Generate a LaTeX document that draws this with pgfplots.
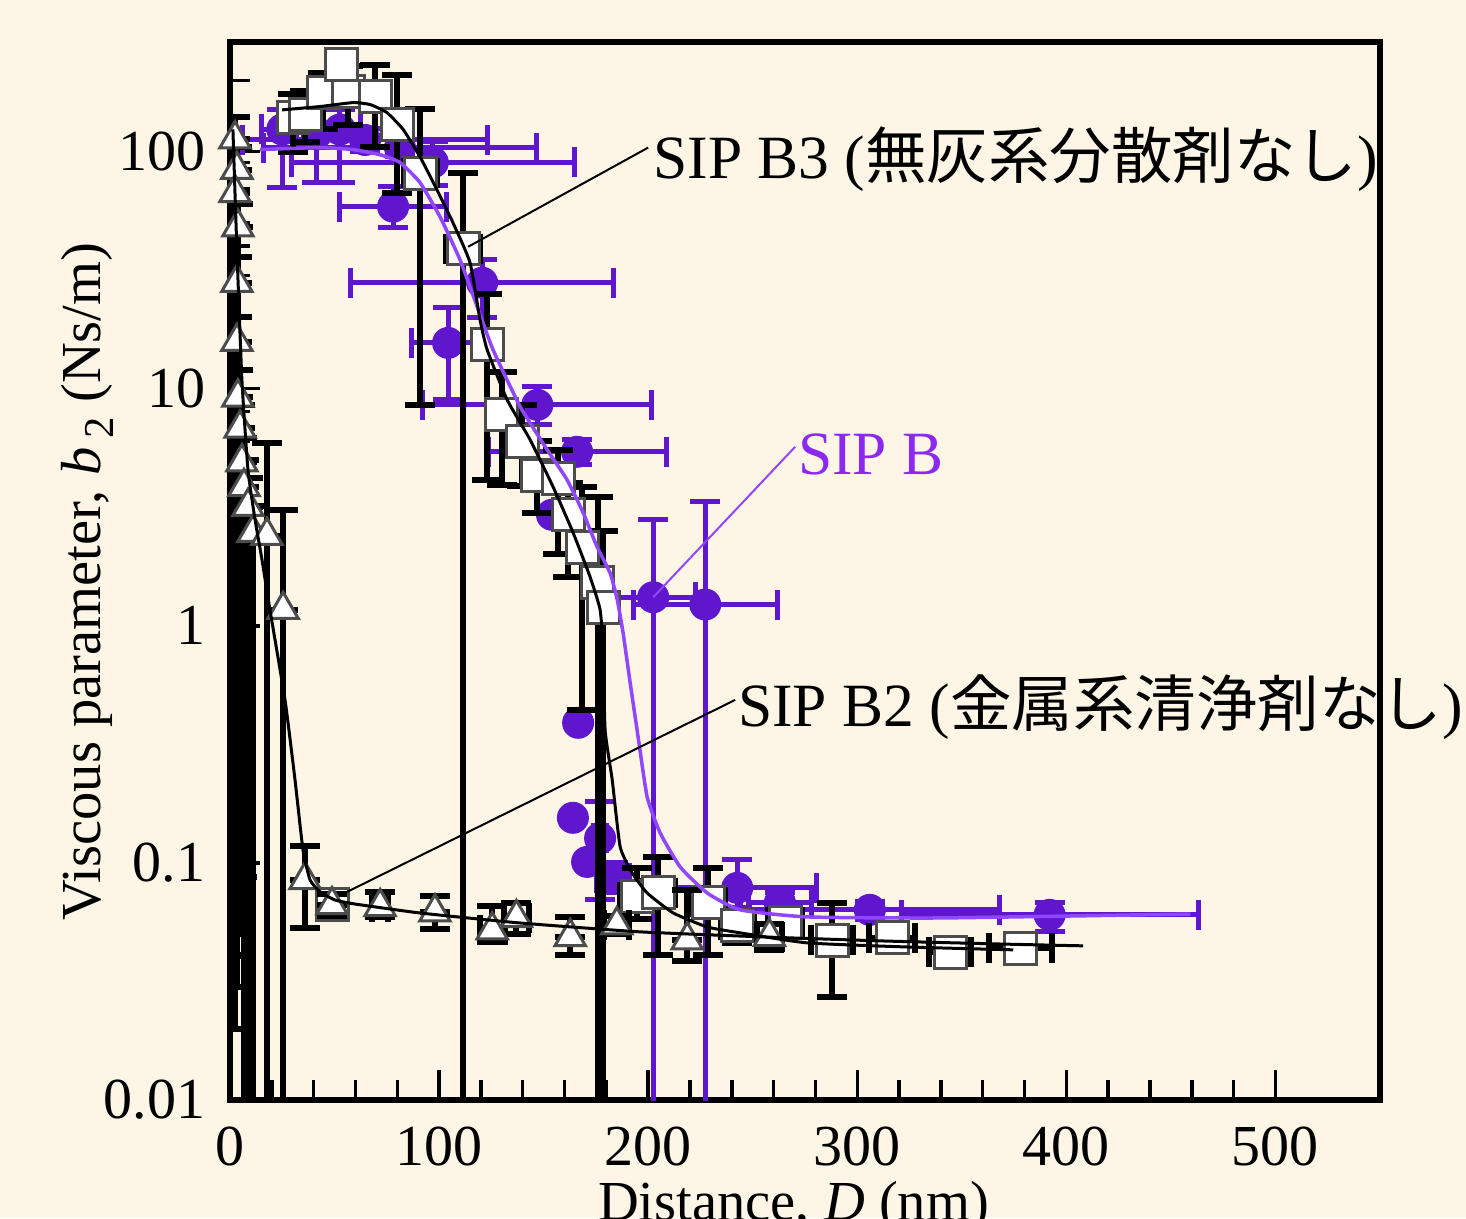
\documentclass[border=0pt]{standalone}
\usepackage{fontspec}
\setmainfont{Liberation Serif}
\newfontfamily\jp{Noto Sans CJK JP}
\usepackage{xcolor}
\usepackage{pgfplots}
\pgfplotsset{compat=1.18}
\usepackage{pgfplotstable}
\definecolor{bg}{RGB}{253,246,230}
\definecolor{pmark}{RGB}{95,22,205}
\definecolor{pfit}{RGB}{145,70,255}
\definecolor{ptext}{RGB}{140,40,240}
\pagecolor{bg}

% SIP B (circles) with errors
\pgfplotstableread{
x y xe yp ym
25 124 10 26 53.5
41.6 120 10 30 46
52.6 124 10 26 50
64.6 112 58.4 13 12
81.3 104 65.5 10 9
97 90 67.7 20 18
78 58.6 25.6 12.4 10.6
120.6 28 63 7 8
104.3 15.6 17.7 6.4 6.6
147 8.55 54.8 1.65 1.45
166 5.42 42.6 0.68 0.62
202.4 1.32 20 1.48 1.3199
227.3 1.23 34.5 2.1 1.2299
177 0.127 3 0.054 0.0572
183.3 0.0865 8 0.0135 0.0115
242.6 0.0785 38 0.0247 0.0135
263 0.068 15 0.007 0.006
306 0.0634 62 0.0056 0.0054
392 0.0604 71 0.008 0.0092
}\tabB
% SIP B circles without visible errors
\pgfplotstableread{
x y
154 2.94
166.5 0.39
164 0.155
170.8 0.101
}\tabBn
% SIP B3 (squares)
\pgfplotstableread{
x y xe yp ym
30.3 139 6 36 39
36 143 6 37 33
44.5 177 6 38 53
56.5 179 6 51 49
53.5 233 5 31 33
69.4 171 6 62 66
80 130 6 81 63
91 81 8 70 72.5
111.5 39 8 42 38.9999
123 15.4 6 9.6 11.27
130 7.8 6 4 3.86
139.7 6.0 6 2.5 2.1
147 4.3 6 1.7 1.3
157 4.2 6 1.3 2.2
161.7 2.94 6 1.06 1.34
168.4 2.15 6 1.71 1.71
176 1.52 6 1.98 1.5199
178.5 1.19 6 1.31 1.1899
194.7 0.072 8 0.023 0.014
204.8 0.0747 8 0.0308 0.0337
228.7 0.0684 8 0.0269 0.0274
242.6 0.0547 8 0.0083 0.0087
265.5 0.0563 8 0.0067 0.0063
288 0.0473 10 0.0205 0.0201
316.7 0.0483 11 0.0057 0.0053
344.5 0.042 10 0.005 0.005
378 0.0437 15 0.0053 0.0047
48.8 0.0665 4 0.0075 0.0065
}\tabBthree
% SIP B2 (triangles)
\pgfplotstableread{
x y xe yp ym
2.4 113 0 27 112.98
3.3 84 0 21 83.97
2.4 67 0 13 66.959
3.8 48 0 12 47.95
3.3 28 0 8 27.94
3.3 15.8 0 4.2 15.734
3.8 9.2 0 2.8 9.128
4.8 6.8 0 1.7 6.72
5.7 4.9 0 1.3 4.8125
6.7 3.86 0 1.14 3.8599
8.6 3.18 0 1.02 3.1799
11 2.47 0 0.73 2.4699
17.7 2.4 0 3.5 2.3999
25.4 1.17 0 1.92 1.1699
35.9 0.0848 0 0.0332 0.0318
48.8 0.0665 0 0.0075 0.0065
71.8 0.0652 4 0.0103 0.0058
98 0.062 0 0.0104 0.0093
125.4 0.0521 6 0.0137 0.0055
137 0.0586 6 0.0094 0.0086
162.7 0.0488 0 0.0103 0.0078
185 0.0547 6 0.0053 0.0047
218.7 0.0473 0 0.0299 0.0086
258 0.0488 6 0.0062 0.0058
}\tabBtwo

\begin{document}
\begin{tikzpicture}
\begin{axis}[
  scale only axis, width=230pt, height=211.6pt,
  xmin=0, xmax=550, ymode=log, ymin=0.01, ymax=290,
  axis line style={line width=1.2pt},
  xtick={0,100,200,300,400,500}, xticklabels={0,100,200,300,400,500},
  minor x tick num=4,
  ytick={0.01,0.1,1,10,100}, yticklabels={0.01,0.1,1,10,100},
  minor ytick={0.02,0.03,0.04,0.05,0.06,0.07,0.08,0.09,0.2,0.3,0.4,0.5,0.6,0.7,0.8,0.9,2,3,4,5,6,7,8,9,20,30,40,50,60,70,80,90,200},
  tick align=inside, xtick pos=bottom, ytick pos=left,
  major tick length=6pt, minor tick length=4pt,
  tick style={line width=0.7pt, black},
  tick label style={font=\fontsize{11.6}{13}\selectfont},
  xticklabel style={yshift=-1.8pt},
  yticklabel style={xshift=-1.4pt},
  /pgf/number format/assume math mode=true,
  label style={font=\fontsize{11.3}{13}\selectfont},
  xlabel={Distance, \textit{D} (nm)},
  xlabel style={at={(axis description cs:0.49,-0.1134)}, anchor=base},
  ylabel={Viscous parameter, \textit{b}\,\raisebox{-0.5ex}{\fontsize{8.5}{9}\selectfont 2}\ (Ns/m)},
  ylabel style={at={(axis description cs:-0.113,0.49)}, anchor=base},
  clip mode=individual,
]
\coordinate (sw) at (rel axis cs:0,0);

% SIP B circles
\addplot[only marks, mark=*, mark size=3pt, mark options={fill=pmark, draw=pmark},
  error bars/x dir=both, error bars/x explicit, error bars/y dir=both, error bars/y explicit,
  error bars/error bar style={line width=1pt, pmark},
  error bars/error mark options={rotate=90, mark size=3pt, line width=1pt, pmark}]
  table[x=x, y=y, x error plus=xe, x error minus=xe, y error plus=yp, y error minus=ym] {\tabB};
\addplot[only marks, mark=*, mark size=3pt, mark options={fill=pmark, draw=pmark}]
  table[x=x, y=y] {\tabBn};

% SIP B3 squares
\addplot[only marks, mark=square*, mark size=3.2pt, mark options={fill=white, draw=black!70, line width=0.6pt},
  error bars/x dir=both, error bars/x explicit, error bars/y dir=both, error bars/y explicit,
  error bars/error bar style={line width=1.2pt, black},
  error bars/error mark options={rotate=90, mark size=3pt, line width=1.2pt, black}]
  table[x=x, y=y, x error plus=xe, x error minus=xe, y error plus=yp, y error minus=ym] {\tabBthree};

% SIP B2 triangles
\addplot[only marks, mark=triangle*, mark size=3.5pt, mark options={fill=white, draw=black!70, line width=0.6pt},
  error bars/x dir=both, error bars/x explicit, error bars/y dir=both, error bars/y explicit,
  error bars/error bar style={line width=1.2pt, black},
  error bars/error mark options={rotate=90, mark size=3pt, line width=1.2pt, black}]
  table[x=x, y=y, x error plus=xe, x error minus=xe, y error plus=yp, y error minus=ym] {\tabBtwo};

% fits
\addplot[pfit, line width=0.7pt, smooth, tension=0.3] coordinates {
(14.4,102) (43.1,104) (58.9,102) (71.8,97) (81.3,90) (90.9,74) (100.5,53) (110.0,35)
(118.2,22.2) (125.8,14.6) (138.8,8.4) (151.7,5.53) (161.2,4.13) (168.9,3.0) (175.6,2.15)
(181.8,1.67) (185.2,1.29) (188.0,0.934) (191.4,0.574) (194.7,0.364) (199.5,0.190)
(205.7,0.134) (215.3,0.0962) (228.2,0.0747) (244.0,0.0634) (276.1,0.0592) (339.7,0.0586) (459.3,0.0609)};
\addplot[black, line width=0.6pt, smooth, tension=0.3] coordinates {
(24.9,150) (43.1,155) (58.9,161) (67.0,158) (75.1,146) (82.8,124) (90.9,95) (99.0,69)
(106.7,50) (114.8,34) (119.6,19.5) (123.0,14.6) (132.5,9.0) (143.5,6.1) (154.5,3.86)
(164.1,2.47) (172.2,1.61) (177.0,1.17) (178.5,0.79) (179.4,0.364) (182.8,0.224)
(186.6,0.117) (192.3,0.0908) (199.5,0.0747) (212.0,0.0615) (228.2,0.0537) (244.0,0.0507)
(276.1,0.0460) (323.9,0.0442) (374.6,0.0430)};
\addplot[black, line width=0.6pt, smooth, tension=0.3] coordinates {
(1.4,124) (3.3,38.6) (5.7,10.9) (8.6,4.55) (12.0,2.80) (15.3,1.90) (19.1,1.17)
(26.3,0.488) (31.1,0.224) (34.9,0.1135) (38.3,0.0848) (43.1,0.0755) (50.2,0.0698)
(59.8,0.0671) (90.9,0.0615) (138.8,0.0558) (196.2,0.0512) (253.6,0.0488) (311,0.0469)
(368.4,0.0455) (408,0.0447)};

% annotations
\draw[black, line width=0.4pt] (axis cs:113.9,39.7) -- (axis cs:200,104);
\node[anchor=west, inner sep=0pt, font=\fontsize{12.3}{14}\selectfont] at (axis cs:202,92.5) {SIP B3 ({\jp 無灰系分散剤なし})};
\draw[pfit, line width=0.4pt] (axis cs:202.4,1.32) -- (axis cs:270.3,5.69);
\node[anchor=west, inner sep=0pt, text=ptext, font=\fontsize{12.3}{14}\selectfont] at (axis cs:271.3,5.27) {SIP B};
\draw[black, line width=0.4pt] (axis cs:56,0.0755) -- (axis cs:241.6,0.487);
\node[anchor=west, inner sep=0pt, font=\fontsize{12.3}{14}\selectfont] at (axis cs:242.6,0.455) {SIP B2 ({\jp 金属系清浄剤なし})};
\end{axis}
\pgfresetboundingbox
\path[use as bounding box] ([shift={(-46pt,-23.6pt)}]sw) rectangle ([shift={(247.2pt,220pt)}]sw);
\end{tikzpicture}
\end{document}
